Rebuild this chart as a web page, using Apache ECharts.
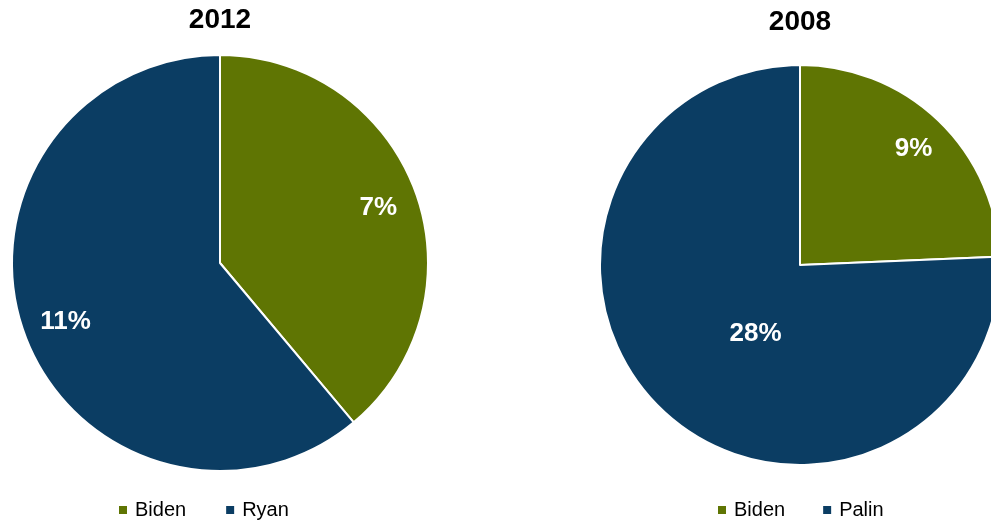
<!DOCTYPE html>
<html>
<head>
<meta charset="utf-8">
<script src="https://cdn.jsdelivr.net/npm/echarts@6/dist/echarts.min.js"></script>
<style>
html,body{margin:0;padding:0;background:#fff;}
#main{width:991px;height:523px;}
</style>
</head>
<body>
<div id="main"></div>
<script>
// ---- data ----
const titles = ['2012', '2008'];
const categories2012 = ['Biden', 'Ryan'];
const values2012 = [7, 11];
const categories2008 = ['Biden', 'Palin'];
const values2008 = [9, 28];

// ---- styles / layout ----
const colors = ['#5F7503', '#0B3D63'];
const FONT = '"Liberation Sans", Arial, sans-serif';
const LABEL_DY = 2.5;
const pieLayouts = [
  { center: [220, 263], r: 208, legendLeft: 117, legendGap: 38, titleTop: 6,
    // [radial fraction, angle shift in degrees] per slice label
    labelPos: [[0.81, 0], [0.79, 0]] },
  { center: [800, 265], r: 200, legendLeft: 716, legendGap: 36, titleTop: 8,
    labelPos: [[0.82, 0], [0.40, -10]] }
];

const chart = echarts.init(document.getElementById('main'), null, { renderer: 'canvas' });

function makeSeries(idx, cats, vals) {
  const L = pieLayouts[idx];
  const total = vals.reduce((a, b) => a + b, 0);
  // mid angles (degrees clockwise from 12 o'clock)
  const mids = [];
  let acc = 0;
  vals.forEach(v => { mids.push((acc + v / 2) / total * 360); acc += v; });
  return {
    type: 'pie',
    name: titles[idx],
    center: L.center,
    radius: L.r,
    startAngle: 90,
    clockwise: true,
    animation: false,
    silent: true,
    legendHoverLink: false,
    emphasis: { disabled: true },
    itemStyle: { borderColor: '#ffffff', borderWidth: 2 },
    label: {
      show: true,
      position: 'inside',
      formatter: '{c}%',
      color: '#ffffff',
      fontSize: 26,
      fontWeight: 'bold',
      fontFamily: FONT
    },
    labelLine: { show: false },
    labelLayout: function (p) {
      const lp = L.labelPos[p.dataIndex];
      const a = (mids[p.dataIndex] + lp[1]) * Math.PI / 180;
      return {
        x: L.center[0] + lp[0] * L.r * Math.sin(a),
        y: L.center[1] - lp[0] * L.r * Math.cos(a) + LABEL_DY,
        align: 'center',
        verticalAlign: 'middle'
      };
    },
    data: cats.map((c, i) => ({ name: c, value: vals[i], itemStyle: { color: colors[i] } }))
  };
}

const option = {
  backgroundColor: '#ffffff',
  animation: false,
  title: pieLayouts.map((L, i) => ({
    text: titles[i],
    left: L.center[0],
    top: L.titleTop,
    textAlign: 'center',
    padding: 0,
    textStyle: { fontSize: 28, fontWeight: 'bold', color: '#000', fontFamily: FONT }
  })),
  legend: [
    { data: categories2012 },
    { data: categories2008 }
  ].map((lg, i) => ({
    data: lg.data,
    left: pieLayouts[i].legendLeft,
    top: 500,
    padding: 0,
    orient: 'horizontal',
    icon: 'rect',
    itemWidth: 10,
    itemHeight: 10,
    itemGap: pieLayouts[i].legendGap,
    selectedMode: false,
    textStyle: { fontSize: 20, color: '#000', fontFamily: FONT, padding: [0, 0, 0, 2] }
  })),
  series: [
    makeSeries(0, categories2012, values2012),
    makeSeries(1, categories2008, values2008)
  ]
};
chart.setOption(option);
</script>
</body>
</html>
